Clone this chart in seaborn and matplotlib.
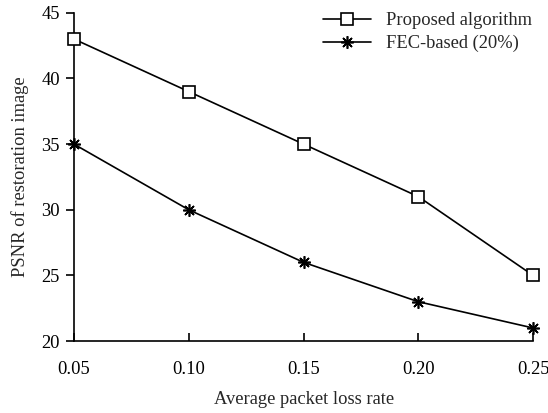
import matplotlib
matplotlib.use("Agg")
import matplotlib.pyplot as plt
import seaborn as sns
import pandas as pd

loss_rate = [0.05, 0.10, 0.15, 0.20, 0.25]
proposed = [43, 39, 35, 31, 25]
fec_based = [35, 30, 26, 23, 21]
series_names = ["Proposed algorithm", "FEC-based (20%)"]
x_ticks = [0.05, 0.10, 0.15, 0.20, 0.25]
x_tick_labels = ["0.05", "0.10", "0.15", "0.20", "0.25"]
y_ticks = [20, 25, 30, 35, 40, 45]

sns.set_style("ticks")
plt.rcParams["font.family"] = ["Liberation Serif", "DejaVu Serif"]

fig = plt.figure(figsize=(5.48, 4.13), dpi=100)
ax = fig.add_axes([0.135, 0.174, 0.838, 0.795])

df1 = pd.DataFrame({"x": loss_rate, "y": proposed})
df2 = pd.DataFrame({"x": loss_rate, "y": fec_based})

sns.lineplot(data=df1, x="x", y="y", ax=ax, color="black", linewidth=1.2,
             marker="s", markersize=9, markerfacecolor="white",
             markeredgecolor="black", markeredgewidth=1.2, label=series_names[0],
             clip_on=False, zorder=5)
sns.lineplot(data=df2, x="x", y="y", ax=ax, color="black", linewidth=1.2,
             marker=(8, 2, 0), markersize=9, markeredgecolor="black",
             markeredgewidth=1.2, label=series_names[1], clip_on=False, zorder=5)

ax.set_xlim(0.05, 0.25)
ax.set_ylim(20, 45)
ax.set_xticks(x_ticks)
ax.set_xticklabels(x_tick_labels)
ax.set_yticks(y_ticks)
ax.tick_params(axis="x", direction="in", length=6, width=1.2, labelsize=13.3, pad=14, colors="black")
ax.tick_params(axis="y", direction="out", length=6, width=1.2, labelsize=13.3, pad=4, colors="black")
for s in ["top", "right"]:
    ax.spines[s].set_visible(False)
for s in ["left", "bottom"]:
    ax.spines[s].set_linewidth(1.2)
    ax.spines[s].set_color("black")

ax.set_xlabel("Average packet loss rate", fontsize=13.3, labelpad=10)
ax.set_ylabel("PSNR of restoration image", fontsize=13.3, labelpad=9)

leg = ax.legend(loc="upper right", bbox_to_anchor=(1.022, 1.035), frameon=False,
                fontsize=13.3, handlelength=2.6, handletextpad=0.8,
                labelspacing=0.3, borderaxespad=0.2)

fig.savefig("out.png", dpi=100)
